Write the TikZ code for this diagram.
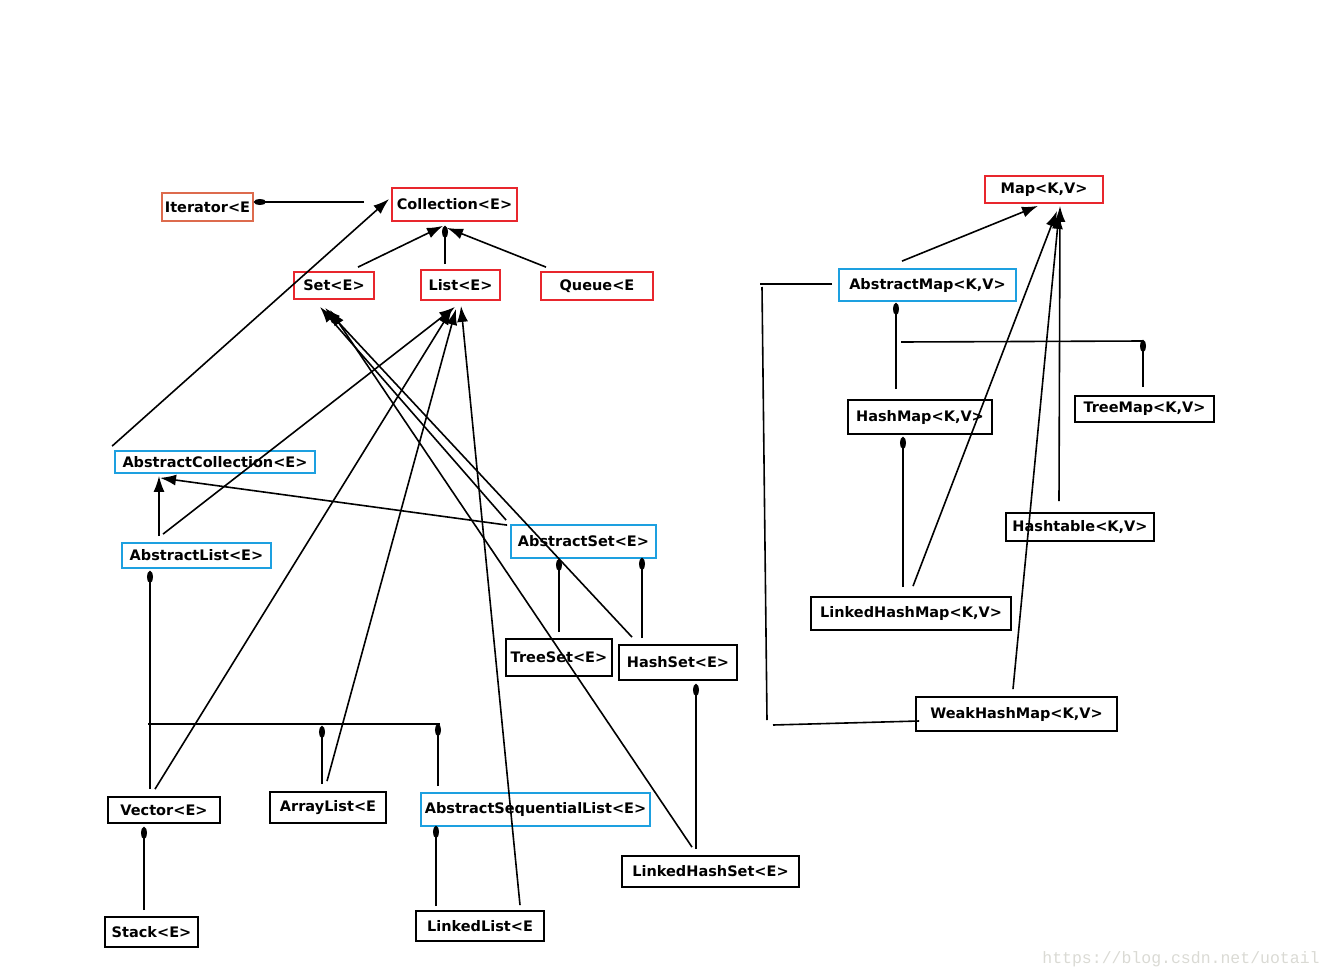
\documentclass[tikz,border=0pt]{standalone}
\usepackage{fontspec}
\setmainfont{DejaVu Sans}
\newfontfamily\markfont{Liberation Mono}
\usepackage{xcolor}
\definecolor{if-red}{HTML}{E8262D}
\definecolor{it-orange}{HTML}{DD6B4D}
\definecolor{abs-blue}{HTML}{1DA0E0}
\definecolor{mark-gray}{HTML}{DADAD4}
\usepackage{tikz}
\usetikzlibrary{arrows.meta}
\tikzset{cls/.style = {draw, line width=1.8pt, inner sep=0pt, align=center, font=\bfseries\fontsize{14.5}{16}\selectfont}}
\tikzset{iface/.style = {cls, draw=if-red}}
\tikzset{abst/.style = {cls, draw=abs-blue}}
\tikzset{impl/.style = {cls, draw=black}}
\tikzset{ln/.style = {line width=1.6pt}}
\tikzset{arr/.style = {line width=1.6pt, -{Latex[length=16pt, width=11pt]}}}
\tikzset{sarr/.style = {line width=1.6pt, -{Ellipse[length=12pt, width=6pt]}}}

\begin{document}
\begin{tikzpicture}[x=1pt, y=-1pt]
\useasboundingbox (0,0) rectangle (1333,979);

% interfaces
\node[iface, draw=it-orange, minimum width=91pt, minimum height=28pt] (iter) at (207.5,207) {Iterator<E};
\node[iface, minimum width=125pt, minimum height=33pt] (coll) at (454.5,204.5) {Collection<E>};
\node[iface, minimum width=80pt, minimum height=27pt] (set) at (334,285.5) {Set<E>};
\node[iface, minimum width=79pt, minimum height=30pt] (list) at (460.5,285) {List<E>};
\node[iface, minimum width=112pt, minimum height=28pt] (queue) at (597,286) {Queue<E};
\node[iface, minimum width=118pt, minimum height=27pt] (map) at (1044,189.5) {Map<K,V>};

% abstract classes
\node[abst, minimum width=200pt, minimum height=22pt] (acoll) at (215,462) {AbstractCollection<E>};
\node[abst, minimum width=149pt, minimum height=25pt] (alist) at (196.5,555.5) {AbstractList<E>};
\node[abst, minimum width=145pt, minimum height=33pt] (aset) at (583.5,541.5) {AbstractSet<E>};
\node[abst, minimum width=229pt, minimum height=33pt] (aseq) at (535.5,809.5) {AbstractSequentialList<E>};
\node[abst, minimum width=177pt, minimum height=32pt] (amap) at (927.5,285) {AbstractMap<K,V>};

% classes
\node[impl, minimum width=106pt, minimum height=37pt] (tset) at (559,657.5) {TreeSet<E>};
\node[impl, minimum width=118pt, minimum height=35pt] (hset) at (678,662.5) {HashSet<E>};
\node[impl, minimum width=177pt, minimum height=31pt] (lhset) at (710.5,871.5) {LinkedHashSet<E>};
\node[impl, minimum width=112pt, minimum height=26pt] (vec) at (164,810) {Vector<E>};
\node[impl, minimum width=116pt, minimum height=31pt] (alst) at (328,807.5) {ArrayList<E};
\node[impl, minimum width=93pt, minimum height=30pt] (stack) at (151.5,932) {Stack<E>};
\node[impl, minimum width=128pt, minimum height=30pt] (llist) at (480,926) {LinkedList<E};
\node[impl, minimum width=144pt, minimum height=34pt] (hmap) at (920,417) {HashMap<K,V>};
\node[impl, minimum width=139pt, minimum height=26pt] (tmap) at (1144.5,409) {TreeMap<K,V>};
\node[impl, minimum width=148pt, minimum height=28pt] (htab) at (1080,527) {Hashtable<K,V>};
\node[impl, minimum width=200pt, minimum height=33pt] (lhmap) at (911,613.5) {LinkedHashMap<K,V>};
\node[impl, minimum width=201pt, minimum height=34pt] (whmap) at (1016.5,714) {WeakHashMap<K,V>};

% free ends of the bus lines
\coordinate (lbus w) at (148,724);
\coordinate (lbus e) at (440,724);
\coordinate (lbus a) at (322,726);
\coordinate (lbus q) at (438,724);
\coordinate (mbus w) at (901,342);
\coordinate (mbus e) at (1143,341);
\coordinate (br top) at (760,284);
\coordinate (br up) at (762,287);
\coordinate (br down) at (767,720);
\coordinate (br bot) at (773,725);

% collection side
\draw[sarr] ([xshift=-27pt, yshift=2.5pt]coll.west) -- ([yshift=5pt]iter.east);
\draw[arr]  ([xshift=-2pt, yshift=4pt]acoll.north west) -- ([xshift=-2pt, yshift=5.5pt]coll.west);
\draw[arr]  ([xshift=24pt, yshift=4pt]set.north) -- ([xshift=-11.5pt, yshift=-4pt]coll.south);
\draw[sarr] ([xshift=-15.5pt, yshift=5pt]list.north) -- ([xshift=-9.5pt, yshift=-4pt]coll.south);
\draw[arr]  ([xshift=-51pt, yshift=4pt]queue.north) -- ([xshift=-7.5pt, yshift=-6pt]coll.south);
\draw[arr]  ([xshift=-4pt, yshift=4pt]aset.north west) -- ([xshift=-14pt, yshift=-7pt]set.south);
\draw[arr]  ([xshift=-46pt, yshift=7pt]hset.north) -- ([xshift=-9pt, yshift=-8pt]set.south);
\draw[arr]  ([xshift=-18.5pt, yshift=8pt]lhset.north) -- ([xshift=-4pt, yshift=-10pt]set.south);
\draw[arr]  ([xshift=-3pt, yshift=-1pt]aset.north west) -- ([xshift=-55pt, yshift=-4pt]acoll.south);
\draw[arr]  ([xshift=-37.5pt, yshift=6pt]alist.north) -- ([xshift=-56pt, yshift=-2pt]acoll.south);
\draw[arr]  ([xshift=-33.5pt, yshift=8pt]alist.north) -- ([xshift=-5.5pt, yshift=-6pt]list.south);
\draw[arr]  ([xshift=-9pt, yshift=7pt]vec.north) -- ([xshift=-8.5pt, yshift=-8pt]list.south);
\draw[arr]  ([xshift=-1pt, yshift=10pt]alst.north) -- ([xshift=-4.5pt, yshift=-8pt]list.south);
\draw[arr]  ([xshift=40pt, yshift=5pt]llist.north) -- ([xshift=0.5pt, yshift=-5pt]list.south);
\draw[sarr] ([xshift=-14pt, yshift=7pt]vec.north) -- ([xshift=-46.5pt, yshift=-2pt]alist.south);
\draw[ln]   (lbus w) -- (lbus e);
\draw[sarr] ([xshift=-6pt, yshift=7pt]alst.north) -- (lbus a);
\draw[sarr] ([xshift=-97.5pt, yshift=6pt]aseq.north) -- (lbus q);
\draw[sarr] ([xshift=-7.5pt, yshift=6pt]stack.north) -- ([xshift=-20pt, yshift=-3pt]vec.south);
\draw[sarr] ([xshift=-44pt, yshift=4pt]llist.north) -- ([xshift=-99.5pt, yshift=1pt]aseq.south);
\draw[sarr] ([yshift=6pt]tset.north) -- ([xshift=-24.5pt]aset.south);
\draw[sarr] ([xshift=-36pt, yshift=6pt]hset.north) -- ([xshift=58.5pt, yshift=1pt]aset.south);
\draw[sarr] ([xshift=-14.5pt, yshift=6pt]lhset.north) -- ([xshift=18pt, yshift=-3pt]hset.south);

% map side
\draw[arr]  ([xshift=-25.5pt, yshift=7pt]amap.north) -- ([xshift=-6pt, yshift=-2pt]map.south);
\draw[arr]  ([xshift=-21pt, yshift=11pt]htab.north) -- ([xshift=16pt, yshift=-2pt]map.south);
\draw[arr]  ([xshift=2pt, yshift=10pt]lhmap.north) -- ([xshift=13pt, yshift=-7pt]map.south);
\draw[arr]  ([xshift=-3.5pt, yshift=7pt]whmap.north) -- ([xshift=15pt, yshift=-9pt]map.south);
\draw[sarr] ([xshift=-24pt, yshift=10pt]hmap.north) -- ([xshift=-31.5pt, yshift=-1pt]amap.south);
\draw[ln]   (mbus w) -- (mbus e);
\draw[sarr] ([xshift=-1.5pt, yshift=8pt]tmap.north) -- ([yshift=1pt]mbus e);
\draw[sarr] ([xshift=-8pt, yshift=9pt]lhmap.north) -- ([xshift=-17pt, yshift=-2pt]hmap.south);
\draw[ln]   ([xshift=-6pt, yshift=1pt]amap.west) -- (br top);
\draw[ln]   (br up) -- (br down);
\draw[ln]   (br bot) -- ([xshift=4pt, yshift=-7pt]whmap.west);

\node[text=mark-gray, font=\markfont\fontsize{16.5}{18}\selectfont, inner sep=0pt] (mark) at (1181,959) {https://blog.csdn.net/uotail};

\end{tikzpicture}
\end{document}
